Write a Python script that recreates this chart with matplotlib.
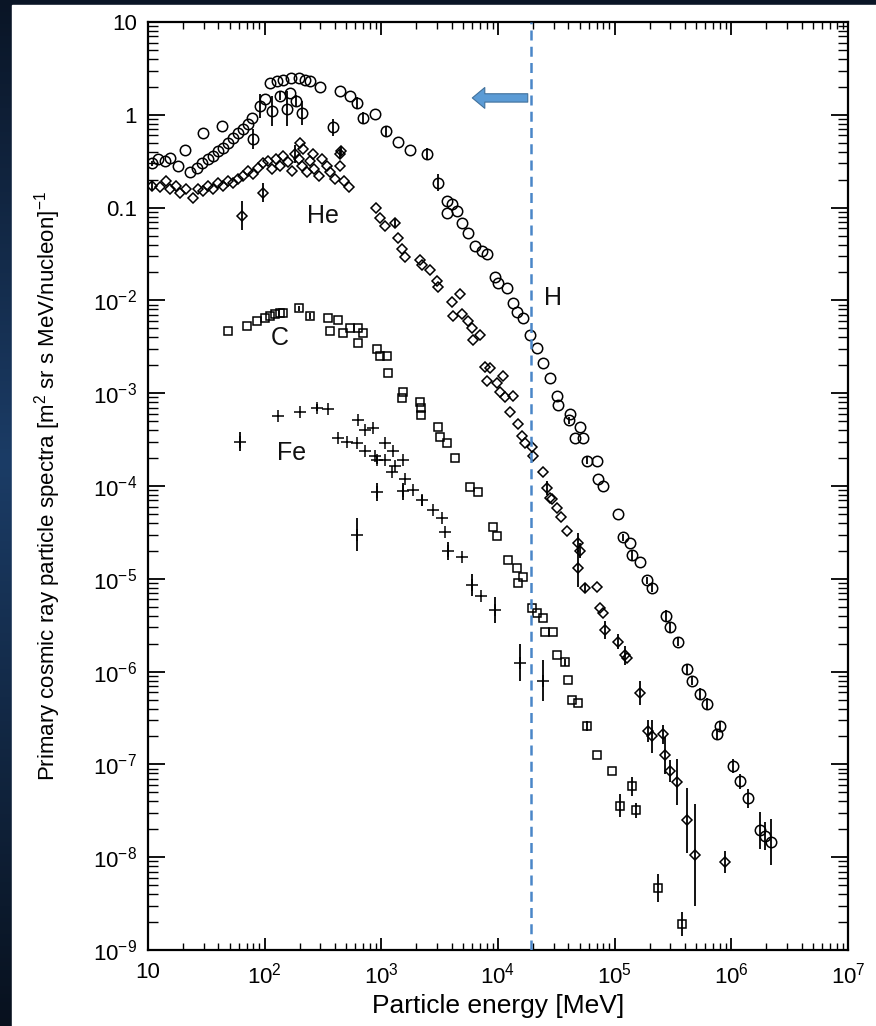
import numpy as np
import matplotlib.pyplot as plt
from matplotlib.colors import LinearSegmentedColormap
from matplotlib.patches import Rectangle, FancyArrowPatch
from matplotlib.ticker import LogLocator, FuncFormatter, NullFormatter, FixedLocator

plt.rcParams['font.family'] = ['Liberation Sans', 'DejaVu Sans']
plt.rcParams['mathtext.fontset'] = 'custom'
plt.rcParams['mathtext.rm'] = 'Liberation Sans'
plt.rcParams['mathtext.it'] = 'Liberation Sans:italic'
plt.rcParams['mathtext.bf'] = 'Liberation Sans:bold'

# Proton (H) spectrum: energy [MeV/nucleon], flux, error bar half-length [decades]
h_energy = [10.8, 12.2, 14.0, 15.5, 18.1, 20.7, 22.9, 26.3, 29.0, 29.6,
            32.7, 36.1, 39.8, 43.0, 43.8, 48.5, 53.5, 59.0, 65.0, 71.7,
            78.0, 80.0, 91, 101, 111, 116, 127, 135, 145, 154,
            165, 168, 186, 195, 210, 221, 244, 298, 385, 442,
            538, 620, 690, 881, 1100, 1390, 1758, 2460, 3050, 3680,
            4050, 3680, 4490, 4960, 5480, 6340, 7280, 8030, 9410, 1.0e4,
            1.2e4, 1.35e4, 1.46e4, 1.63e4, 1.88e4, 2.16e4, 2.41e4, 2.79e4, 3.2e4, 3.26e4,
            4.13e4, 4.04e4, 5.03e4, 4.56e4, 5.35e4, 5.8e4, 7.06e4, 7.2e4, 7.9e4, 1.07e5,
            1.18e5, 1.35e5, 1.4e5, 1.64e5, 1.88e5, 2.07e5, 2.76e5, 2.97e5, 3.47e5, 4.2e5,
            4.6e5, 5.37e5, 6.15e5, 7.97e5, 7.5e5, 1.03e6, 1.18e6, 1.38e6, 1.75e6, 1.94e6,
            2.2e6]
h_flux = [0.30, 0.33, 0.32, 0.34, 0.28, 0.42, 0.24, 0.27, 0.30, 0.64,
          0.33, 0.36, 0.41, 0.76, 0.44, 0.50, 0.56, 0.64, 0.71, 0.80,
          0.93, 0.55, 1.25, 1.48, 2.2, 1.10, 2.3, 1.6, 2.4, 1.16,
          1.72, 2.5, 1.41, 2.5, 1.05, 2.37, 2.32, 2.0, 0.73, 1.81,
          1.60, 1.34, 0.93, 1.02, 0.67, 0.51, 0.42, 0.38, 0.185, 0.118,
          0.110, 0.087, 0.092, 0.069, 0.053, 0.039, 0.034, 0.032, 0.018, 0.0155,
          0.0137, 0.0093, 0.0075, 0.0064, 0.0042, 0.0031, 0.0021, 0.00145, 9.4e-4, 7.4e-4,
          6.0e-4, 5.1e-4, 4.3e-4, 3.3e-4, 3.3e-4, 1.88e-4, 1.88e-4, 1.2e-4, 1.01e-4, 5.0e-5,
          2.8e-5, 2.45e-5, 1.79e-5, 1.5e-5, 9.6e-6, 8.0e-6, 4.0e-6, 3.0e-6, 2.1e-6, 1.06e-6,
          8.0e-7, 5.8e-7, 4.5e-7, 2.6e-7, 2.1e-7, 9.6e-8, 6.6e-8, 4.3e-8, 1.96e-8, 1.70e-8,
          1.45e-8]
h_err = [0.03, 0, 0, 0, 0, 0, 0, 0, 0, 0,
         0, 0, 0, 0, 0, 0, 0, 0, 0, 0,
         0, 0.11, 0.13, 0, 0, 0.16, 0, 0.05, 0, 0.19,
         0, 0, 0.06, 0, 0.13, 0, 0, 0, 0.09, 0,
         0, 0.06, 0.06, 0, 0.05, 0, 0, 0.06, 0.09, 0,
         0, 0, 0, 0, 0, 0, 0, 0, 0, 0,
         0, 0, 0, 0, 0, 0, 0, 0, 0, 0,
         0, 0.04, 0, 0, 0, 0.04, 0, 0, 0, 0,
         0.04, 0, 0.06, 0, 0.04, 0.04, 0.06, 0.05, 0.05, 0.05,
         0.05, 0.06, 0.06, 0.05, 0.06, 0.08, 0.08, 0.1, 0.2, 0.15,
         0.25]

# Helium spectrum
he_energy = [10.8, 12.7, 14.3, 15.5, 17.4, 18.8, 21.2, 24.3, 26.8, 29.6,
             32.7, 36.1, 39.8, 43.8, 48.5, 53.5, 59.0, 65.0, 71.7, 80.0,
             64, 87, 96, 96, 106, 116, 125, 135, 145, 158,
             170, 182, 195, 210, 230, 244, 265, 290, 310, 345,
             363, 400, 442, 480, 525, 201, 215, 260, 442, 455,
             900, 973, 1074, 1308, 1390, 1510, 1593, 2142, 2250, 2609,
             2990, 3050, 4050, 4716, 4130, 4890, 5480, 5990, 6998, 6100,
             7724, 8525, 1.1e4, 8030, 9800, 1.04e4, 1.15e4, 1.35e4, 1.26e4, 1.48e4,
             1.6e4, 1.7e4, 1.96e4, 2.0e4, 2.41e4, 2.64e4, 2.79e4, 2.9e4, 3.2e4, 3.5e4,
             3.9e4, 4.86e4, 5.03e4, 4.86e4, 5.55e4, 7.06e4, 7.47e4, 7.9e4, 8.24e4, 1.07e5,
             1.22e5, 1.27e5, 1.64e5, 1.92e5, 2.1e5, 2.6e5, 2.69e5, 2.97e5, 3.4e5, 4.2e5,
             4.87e5, 8.8e5]
he_flux = [0.172, 0.165, 0.194, 0.160, 0.172, 0.145, 0.16, 0.128, 0.16, 0.152,
           0.172, 0.16, 0.185, 0.172, 0.194, 0.185, 0.205, 0.22, 0.25, 0.23,
           0.082, 0.27, 0.145, 0.30, 0.32, 0.26, 0.33, 0.28, 0.36, 0.31,
           0.25, 0.38, 0.33, 0.28, 0.24, 0.32, 0.26, 0.22, 0.33, 0.28,
           0.24, 0.205, 0.28, 0.194, 0.166, 0.50, 0.43, 0.38, 0.38, 0.41,
           0.099, 0.078, 0.064, 0.068, 0.047, 0.036, 0.029, 0.027, 0.024, 0.021,
           0.0163, 0.0140, 0.0095, 0.0116, 0.0068, 0.0071, 0.0060, 0.0051, 0.0042, 0.0037,
           0.0019, 0.00185, 0.00155, 0.00137, 0.00130, 0.00102, 9.0e-4, 9.4e-4, 6.2e-4, 4.7e-4,
           3.5e-4, 2.9e-4, 2.6e-4, 2.1e-4, 1.4e-4, 9.5e-5, 7.5e-5, 7.3e-5, 5.8e-5, 4.6e-5,
           3.3e-5, 2.45e-5, 2.0e-5, 1.3e-5, 8.0e-6, 8.1e-6, 4.9e-6, 4.3e-6, 2.8e-6, 2.1e-6,
           1.5e-6, 1.4e-6, 5.9e-7, 2.3e-7, 2.0e-7, 2.1e-7, 1.26e-7, 8.5e-8, 6.5e-8, 2.5e-8,
           1.05e-8, 8.8e-9]
he_err = [0.05, 0, 0, 0, 0, 0, 0, 0, 0, 0,
          0, 0, 0, 0, 0, 0, 0, 0, 0, 0,
          0.16, 0, 0.1, 0, 0, 0, 0, 0, 0, 0,
          0, 0.1, 0, 0, 0, 0, 0, 0, 0, 0,
          0, 0, 0, 0, 0, 0, 0, 0, 0.04, 0.05,
          0, 0, 0, 0.05, 0, 0, 0, 0, 0, 0,
          0, 0, 0, 0, 0, 0, 0, 0, 0, 0,
          0, 0, 0, 0, 0, 0, 0, 0, 0, 0,
          0, 0, 0, 0, 0, 0.08, 0, 0, 0, 0,
          0, 0.1, 0.08, 0.2, 0.05, 0, 0, 0, 0.1, 0.08,
          0.1, 0, 0.13, 0.12, 0.18, 0.1, 0.2, 0.12, 0.25, 0.35,
          0.55, 0.12]

# Carbon spectrum
c_energy = [48.5, 70.5, 86, 101, 111, 122, 135, 145, 195, 244,
            350, 425, 363, 465, 538, 625, 690, 625, 910, 973,
            1110, 1130, 1530, 1500, 2142, 2200, 2200, 3050, 3178, 3680,
            4273, 5745, 6750, 9050, 9800, 1.22e4, 1.46e4, 1.63e4, 1.48e4, 1.96e4,
            2.16e4, 2.41e4, 2.52e4, 2.95e4, 3.2e4, 3.74e4, 3.95e4, 4.35e4, 4.86e4, 5.8e4,
            7.06e4, 9.5e4, 1.4e5, 1.11e5, 1.53e5, 2.33e5, 3.8e5]
c_flux = [0.0047, 0.0053, 0.0060, 0.0065, 0.0068, 0.0072, 0.0074, 0.0074, 0.0082, 0.0068,
          0.0065, 0.0062, 0.0047, 0.0045, 0.0050, 0.0051, 0.0044, 0.0035, 0.0030, 0.0025,
          0.0025, 0.00165, 0.00103, 8.9e-4, 8.1e-4, 7.0e-4, 5.8e-4, 4.3e-4, 3.4e-4, 2.9e-4,
          2.0e-4, 9.8e-5, 8.7e-5, 3.6e-5, 2.9e-5, 1.58e-5, 1.3e-5, 1.05e-5, 9.0e-6, 4.9e-6,
          4.3e-6, 3.8e-6, 2.7e-6, 2.7e-6, 1.5e-6, 1.26e-6, 8.1e-7, 4.9e-7, 4.6e-7, 2.6e-7,
          1.26e-7, 8.5e-8, 5.8e-8, 3.6e-8, 3.2e-8, 4.7e-9, 1.9e-9]
c_err = [0, 0, 0, 0, 0, 0, 0, 0, 0.03, 0.03,
         0, 0, 0, 0, 0, 0, 0, 0, 0, 0,
         0, 0, 0, 0, 0, 0, 0, 0, 0, 0,
         0, 0, 0, 0, 0, 0, 0, 0, 0, 0,
         0, 0, 0, 0, 0, 0.04, 0, 0, 0, 0.05,
         0, 0, 0.1, 0.12, 0.08, 0.15, 0.13]

# Iron spectrum
fe_energy = [61.4, 130, 201, 280, 350, 630, 723, 850, 425, 505,
             620, 723, 881, 920, 1074, 1255, 1074, 1308, 1530, 1240,
             1593, 920, 1530, 1860, 2250, 2760, 3310, 3500, 3700, 4890,
             5990, 7200, 9400, 620, 1.54e4, 2.41e4]
fe_flux = [3.0e-4, 5.7e-4, 6.2e-4, 7.0e-4, 6.8e-4, 5.1e-4, 4.0e-4, 4.2e-4, 3.3e-4, 3.0e-4,
           2.9e-4, 2.4e-4, 2.1e-4, 1.9e-4, 2.9e-4, 2.4e-4, 1.9e-4, 1.66e-4, 1.9e-4, 1.4e-4,
           1.2e-4, 8.6e-5, 8.8e-5, 9.0e-5, 7.0e-5, 5.5e-5, 4.5e-5, 3.2e-5, 2.0e-5, 1.7e-5,
           8.6e-6, 6.6e-6, 4.6e-6, 3.0e-5, 1.24e-6, 8.0e-7]
fe_err = [0.1, 0, 0, 0.04, 0, 0, 0, 0, 0, 0,
          0, 0, 0, 0.04, 0, 0, 0, 0, 0, 0,
          0, 0.1, 0.09, 0, 0.06, 0, 0, 0, 0.1, 0,
          0.12, 0, 0.14, 0.18, 0.2, 0.22]

# Element labels placed next to each spectrum
labels = ['H', 'He', 'C', 'Fe']
label_energy = [2.95e4, 316, 135, 171]
label_flux = [0.0107, 0.082, 0.0039, 2.24e-4]

x_decades = [1, 2, 3, 4, 5, 6, 7]
y_decades = [-9, -8, -7, -6, -5, -4, -3, -2, -1, 0, 1]

cut_energy = 1.9e4        # dashed marker line
arrow_from, arrow_to, arrow_flux = 1.9e4, 5.7e3, 1.52

fig = plt.figure(figsize=(8.76, 10.26), dpi=100)

# slide background with white panel
bg = fig.add_axes([0, 0, 1, 1])
slide = LinearSegmentedColormap.from_list(
    'slide', [(0, '#0a1526'), (0.45, '#1b3c66'), (1, '#08111e')])
bg.imshow(np.linspace(0, 1, 256)[:, None], cmap=slide, aspect='auto',
          extent=[0, 1, 0, 1])
bg.add_patch(Rectangle((12 / 876, 0), 1, 1 - 5 / 1026, color='white'))
bg.set_xlim(0, 1)
bg.set_ylim(0, 1)
bg.axis('off')

ax = fig.add_axes([148 / 876, 1 - 950 / 1026, 700 / 876, 928 / 1026])
ax.set_facecolor('none')


def draw_series(energy, flux, err, marker, ms):
    e = np.array(energy)
    f = np.array(flux)
    d = np.array(err)
    yerr = [f - f * 10.0 ** (-d), f * 10.0 ** d - f]
    ax.errorbar(e, f, yerr=yerr, fmt='none', ecolor='black',
                elinewidth=1.3, capsize=0, zorder=3)
    ax.plot(e, f, ls='none', marker=marker, ms=ms, mfc='none',
            mec='black', mew=1.1, zorder=4)


draw_series(h_energy, h_flux, h_err, 'o', 7.5)
draw_series(he_energy, he_flux, he_err, 'D', 5)
draw_series(c_energy, c_flux, c_err, 's', 5.5)
draw_series(fe_energy, fe_flux, fe_err, '+', 8)

for name, xe, yf in zip(labels, label_energy, label_flux):
    ax.text(xe, yf, name, fontsize=18, ha='center', va='center', color='#111111')

ax.axvline(cut_energy, color='#4a86c8', lw=1.8, ls=(0, (4, 2.5)), zorder=5)
ax.add_patch(FancyArrowPatch(
    (arrow_from, arrow_flux), (arrow_to, arrow_flux),
    arrowstyle='simple,head_width=1.5,head_length=0.9,tail_width=0.6',
    mutation_scale=10, fc='#5b9bd5', ec='#41719c', lw=0.8, zorder=6))

ax.set_xscale('log')
ax.set_yscale('log')
ax.set_xlim(10, 1e7)
ax.set_ylim(1e-9, 10)

ax.xaxis.set_major_locator(FixedLocator([10.0 ** n for n in x_decades]))
ax.yaxis.set_major_locator(FixedLocator([10.0 ** n for n in y_decades]))
ax.xaxis.set_minor_locator(LogLocator(base=10, subs=np.arange(2, 10), numticks=20))
ax.yaxis.set_minor_locator(LogLocator(base=10, subs=np.arange(2, 10), numticks=20))
ax.xaxis.set_minor_formatter(NullFormatter())
ax.yaxis.set_minor_formatter(NullFormatter())


def x_fmt(v, pos):
    n = int(round(np.log10(v)))
    return '10' if n == 1 else r'$10^{%d}$' % n


def y_fmt(v, pos):
    n = int(round(np.log10(v)))
    plain = {1: '10', 0: '1', -1: '0.1'}
    return plain.get(n, r'$10^{%d}$' % n)


ax.xaxis.set_major_formatter(FuncFormatter(x_fmt))
ax.yaxis.set_major_formatter(FuncFormatter(y_fmt))

ax.tick_params(which='both', direction='in', top=True, right=True,
               labelsize=16, colors='black')
ax.tick_params(axis='y', which='major', length=12, width=1.3, pad=8)
ax.tick_params(axis='y', which='minor', length=7, width=1.0)
ax.tick_params(axis='x', which='major', length=9, width=1.3, pad=9)
ax.tick_params(axis='x', which='minor', length=5, width=1.0)
for s in ax.spines.values():
    s.set_linewidth(1.6)

ax.set_xlabel('Particle energy [MeV]', fontsize=19)
ax.set_ylabel(r'Primary cosmic ray particle spectra [m$^2$ sr s MeV/nucleon]$^{-1}$',
              fontsize=16)
ax.xaxis.set_label_coords(0.5, -0.047)
ax.yaxis.set_label_coords(-0.122, 0.5)

fig.savefig('out.png', dpi=100)
